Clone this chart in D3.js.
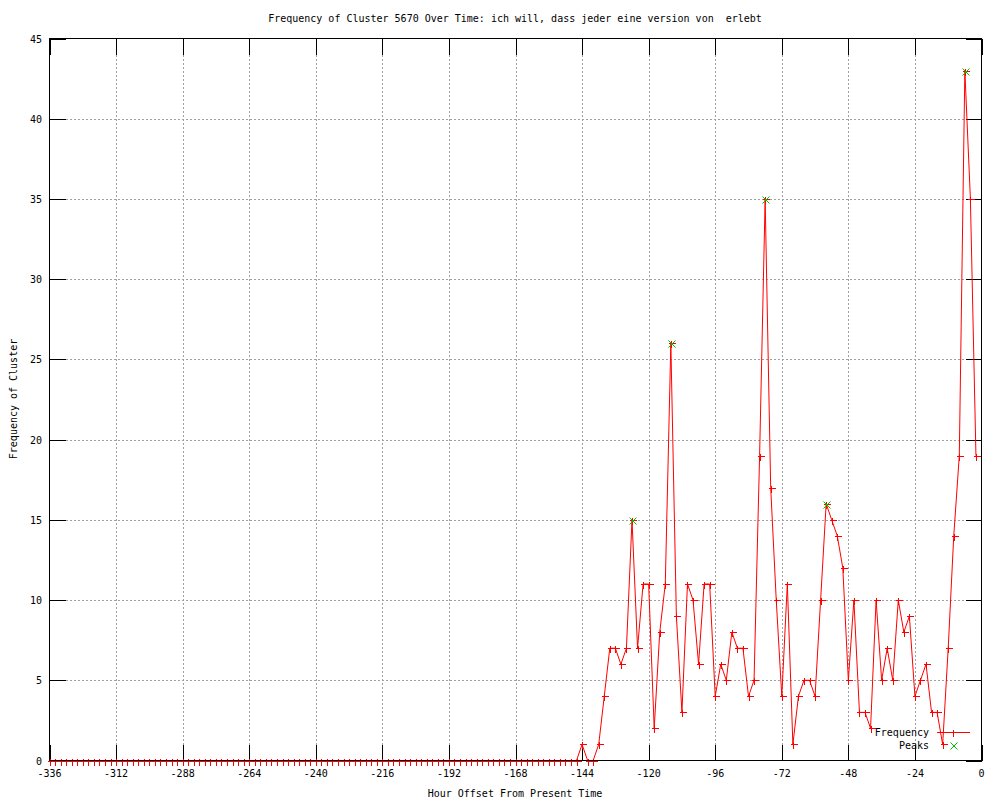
<!DOCTYPE html>
<html lang="en">
  <head>
    <meta charset="utf-8">
    <title>Frequency of Cluster 5670 Over Time</title>
    <script src="https://d3js.org/d3.v7.min.js"></script>
    <style>
    body { margin: 0; background: #fff; }
    text { font-family: "DejaVu Sans Mono", monospace; font-size: 10px; fill: #000; }
    </style>
  </head>
  <body>
    <div id="chart"></div>
    <script type="text/javascript">

    // hours before now, one sample every two hours
    var hours = d3.range(-336, 0, 2);

    // frequency per sample (-336 ... -2)
    var frequency = [
      0, 0, 0, 0, 0, 0, 0, 0, 0, 0, 0, 0, 0, 0, 0, 0,
      0, 0, 0, 0, 0, 0, 0, 0, 0, 0, 0, 0, 0, 0, 0, 0,
      0, 0, 0, 0, 0, 0, 0, 0, 0, 0, 0, 0, 0, 0, 0, 0,
      0, 0, 0, 0, 0, 0, 0, 0, 0, 0, 0, 0, 0, 0, 0, 0,
      0, 0, 0, 0, 0, 0, 0, 0, 0, 0, 0, 0, 0, 0, 0, 0,
      0, 0, 0, 0, 0, 0, 0, 0, 0, 0, 0, 0, 0, 0, 0, 0,
      1, 0, 0, 1, 4, 7, 7, 6, 7, 15, 7, 11, 11, 2, 8, 11,
      26, 9, 3, 11, 10, 6, 11, 11, 4, 6, 5, 8, 7, 7, 4, 5,
      19, 35, 17, 10, 4, 11, 1, 4, 5, 5, 4, 10, 16, 15, 14, 12,
      5, 10, 3, 3, 2, 10, 5, 7, 5, 10, 8, 9, 4, 5, 6, 3,
      3, 1, 7, 14, 19, 43, 35, 19
    ];

    // hours flagged as peaks
    var peakHours = [-126, -112, -78, -56, -6];

    var xTicks = [-336, -312, -288, -264, -240, -216, -192, -168, -144, -120, -96, -72, -48, -24, 0];
    var yTicks = [0, 5, 10, 15, 20, 25, 30, 35, 40, 45];

    var W = 1000, H = 800;
    var plotL = 49.5, plotR = 981.5, plotT = 38.5, plotB = 760.5;

    var svg = d3.select("#chart").append("svg")
      .attr("width", W).attr("height", H);

    var x = d3.scaleLinear().domain([-336, 0]).range([plotL, plotR]);
    var y = d3.scaleLinear().domain([0, 45]).range([plotB, plotT]);

    var data = hours.map(function (h, i) { return { h: h, v: frequency[i] }; });
    var peaks = data.filter(function (d) { return peakHours.indexOf(d.h) >= 0; });

    //grid
    var grid = svg.append("g")
      .attr("stroke", "#a0a0a0").attr("stroke-dasharray", "2,2")
      .attr("shape-rendering", "crispEdges");
    grid.selectAll(".gx").data(xTicks.slice(1, -1)).enter().append("line")
      .attr("x1", function (d) { return Math.round(x(d)) + 0.5; })
      .attr("x2", function (d) { return Math.round(x(d)) + 0.5; })
      .attr("y1", plotT).attr("y2", plotB);
    grid.selectAll(".gy").data(yTicks.slice(1, -1)).enter().append("line")
      .attr("y1", function (d) { return Math.round(y(d)) + 0.5; })
      .attr("y2", function (d) { return Math.round(y(d)) + 0.5; })
      .attr("x1", plotL).attr("x2", plotR);

    //ticks on all four sides, pointing inwards
    var tk = svg.append("g").attr("stroke", "#000").attr("shape-rendering", "crispEdges");
    var tlen = 16;
    xTicks.forEach(function (t) {
      var px = Math.round(x(t)) + 0.5;
      tk.append("line").attr("x1", px).attr("x2", px).attr("y1", plotB).attr("y2", plotB - tlen);
      tk.append("line").attr("x1", px).attr("x2", px).attr("y1", plotT).attr("y2", plotT + tlen);
    });
    yTicks.forEach(function (t) {
      var py = Math.round(y(t)) + 0.5;
      tk.append("line").attr("y1", py).attr("y2", py).attr("x1", plotL).attr("x2", plotL + tlen);
      tk.append("line").attr("y1", py).attr("y2", py).attr("x1", plotR).attr("x2", plotR - tlen);
    });

    //tick labels
    svg.selectAll(".xl").data(xTicks).enter().append("text")
      .attr("x", function (d) { return x(d); }).attr("y", 777)
      .attr("text-anchor", "middle")
      .text(function (d) { return d; });
    svg.selectAll(".yl").data(yTicks).enter().append("text")
      .attr("x", 42).attr("y", function (d) { return y(d) + 4; })
      .attr("text-anchor", "end")
      .text(function (d) { return d; });

    //series
    var red = "#ff0000", green = "#00c000";
    var plus = "M-3,0H4M0,-3V4";
    var cross = "M-3,-3L4,4M-3,4L4,-3";

    svg.append("path").datum(data)
      .attr("fill", "none").attr("stroke", red).attr("stroke-width", 1)
      .attr("d", d3.line().x(function (d) { return x(d.h); }).y(function (d) { return y(d.v); }));

    svg.selectAll(".pt").data(data).enter().append("path")
      .attr("transform", function (d) {
        return "translate(" + (Math.round(x(d.h)) + 0.5) + "," + (Math.round(y(d.v)) + 0.5) + ")";
      })
      .attr("d", plus).attr("stroke", red).attr("fill", "none")
      .attr("shape-rendering", "crispEdges");

    svg.selectAll(".pk").data(peaks).enter().append("path")
      .attr("transform", function (d) {
        return "translate(" + (Math.round(x(d.h)) + 0.5) + "," + (Math.round(y(d.v)) + 0.5) + ")";
      })
      .attr("d", cross).attr("stroke", green).attr("fill", "none");

    //border
    svg.append("rect")
      .attr("x", plotL).attr("y", plotT)
      .attr("width", plotR - plotL).attr("height", plotB - plotT)
      .attr("fill", "none").attr("stroke", "#000")
      .attr("shape-rendering", "crispEdges");

    //legend
    svg.append("text").attr("x", 929).attr("y", 736).attr("text-anchor", "end").text("Frequency");
    svg.append("line").attr("x1", 937).attr("x2", 970).attr("y1", 732.5).attr("y2", 732.5)
      .attr("stroke", red).attr("shape-rendering", "crispEdges");
    svg.append("path").attr("transform", "translate(953.5,732.5)").attr("d", plus)
      .attr("stroke", red).attr("shape-rendering", "crispEdges");
    svg.append("text").attr("x", 929).attr("y", 749).attr("text-anchor", "end").text("Peaks");
    svg.append("path").attr("transform", "translate(953.5,745.5)").attr("d", cross)
      .attr("stroke", green);

    //titles
    svg.append("text").attr("x", 515).attr("y", 22).attr("text-anchor", "middle")
      .attr("xml:space", "preserve")
      .text("Frequency of Cluster 5670 Over Time: ich will, dass jeder eine version von  erlebt");
    svg.append("text").attr("x", 515).attr("y", 797).attr("text-anchor", "middle")
      .text("Hour Offset From Present Time");
    svg.append("text").attr("transform", "translate(17,399) rotate(-90)")
      .attr("text-anchor", "middle")
      .text("Frequency of Cluster");
    </script>
  </body>
</html>
